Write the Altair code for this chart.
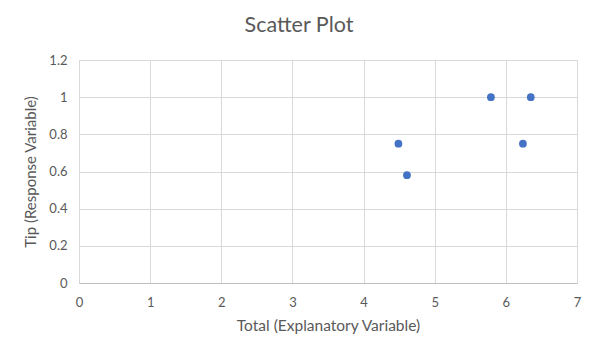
import altair as alt
import pandas as pd

total = [4.49, 4.61, 5.79, 6.35, 6.24]
tip = [0.75, 0.58, 1.0, 1.0, 0.75]

df = pd.DataFrame({"Total": total, "Tip": tip})

FONT = "Lato"
GREY = "#595959"

chart = alt.Chart(df).mark_circle(size=60, color="#4472C4", opacity=1).encode(
    x=alt.X("Total:Q",
            scale=alt.Scale(domain=[0, 7], nice=False, zero=True),
            axis=alt.Axis(title="Total (Explanatory Variable)", values=[0, 1, 2, 3, 4, 5, 6, 7],
                          format="d", grid=True, gridColor="#d9d9d9", domainColor="#bfbfbf",
                          ticks=False, labelPadding=13, labelFontSize=13, labelColor=GREY,
                          labelFlush=False, labelBound=False,
                          labelFont=FONT, titleFont=FONT, titleFontSize=15.5, titleColor=GREY,
                          titleFontWeight="normal", titlePadding=9)),
    y=alt.Y("Tip:Q",
            scale=alt.Scale(domain=[0, 1.2], nice=False),
            axis=alt.Axis(title="Tip (Response Variable)", values=[0, 0.2, 0.4, 0.6, 0.8, 1.0, 1.2],
                          grid=True, gridColor="#d9d9d9", domain=False, ticks=False,
                          labelFlush=False, labelBound=False,
                          labelPadding=12, labelFontSize=13, labelColor=GREY, labelFont=FONT,
                          titleFont=FONT, titleFontSize=15, titleColor=GREY,
                          titleFontWeight="normal", titlePadding=10,
                          labelExpr="datum.value == 0 ? '0' : datum.value == 1 ? '1' : format(datum.value, '.1f')")),
).properties(
    width=498,
    height=223,
    title=alt.TitleParams("Scatter Plot", font=FONT, fontSize=21.5, color=GREY,
                          fontWeight="normal", anchor="middle", dx=-29, offset=18),
    autosize=alt.AutoSizeParams(type="none"),
    padding={"left": 79, "top": 60, "right": 21, "bottom": 74},
).configure_view(stroke="#d9d9d9").configure(background="white")

chart.save("out.html", embed_options={"renderer": "svg", "actions": False})
